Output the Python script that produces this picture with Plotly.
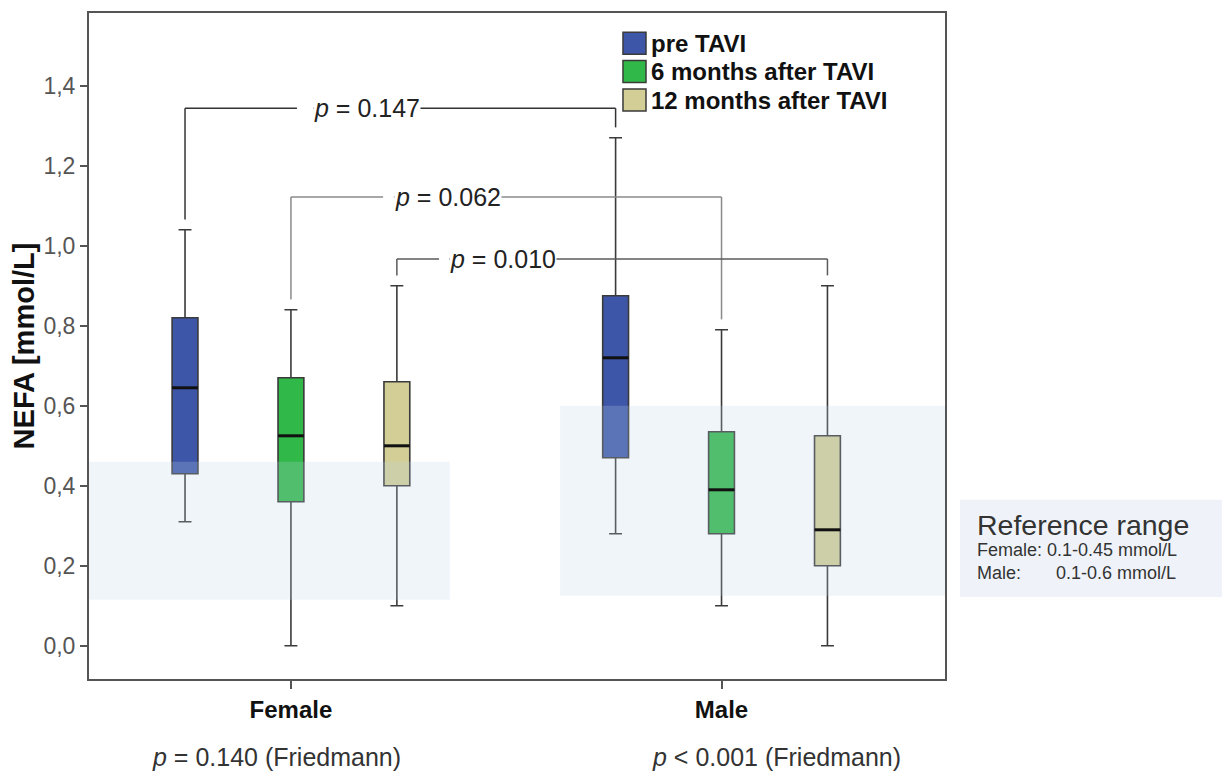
import plotly.graph_objects as go

# ---------------- data ----------------
groups = ["Female", "Male"]
series = ["pre TAVI", "6 months after TAVI", "12 months after TAVI"]
series_colors = ["#3e56a8", "#30b848", "#d2ce96"]
series_offsets = [-0.246, 0.0, 0.246]

# rows = series, columns = groups (Female, Male)
lower_fence = [[0.31, 0.28], [0.00, 0.10], [0.10, 0.00]]
q1 = [[0.43, 0.47], [0.36, 0.28], [0.40, 0.20]]
median = [[0.645, 0.72], [0.525, 0.39], [0.50, 0.29]]
q3 = [[0.82, 0.875], [0.67, 0.535], [0.66, 0.525]]
upper_fence = [[1.04, 1.27], [0.84, 0.79], [0.90, 0.90]]

# reference ranges (as drawn)
band_low = [0.115, 0.125]
band_high = [0.46, 0.60]

# pairwise comparisons Female vs Male per series
bracket_labels = ["p = 0.147", "p = 0.062", "p = 0.010"]
bracket_top = [1.344, 1.122, 0.967]
bracket_label_x = [0.052, 0.239, 0.367]
bracket_gap_x = [0.014, 0.214, 0.344]
bracket_colors = ["#333333", "#8a8a8a", "#5a5a5a"]

friedman_labels = ["<i>p</i> = 0.140 (Friedmann)", "<i>p</i> < 0.001 (Friedmann)"]

ref_title = "Reference range"
ref_lines = ["Female: 0.1-0.45 mmol/L", "Male:\u00a0\u00a0\u00a0\u00a0\u00a0\u00a0 0.1-0.6 mmol/L"]

FONT = "Liberation Sans, Arial, sans-serif"
BOX_W = 0.06
X_RANGE = [-0.469, 1.519]
Y_RANGE = [-0.083, 1.582]

fig = go.Figure()

group_pos = list(range(len(groups)))
for s, name in enumerate(series):
    xs = [g + series_offsets[s] for g in group_pos]
    fig.add_trace(go.Box(
        name=name,
        x=xs,
        q1=q1[s], median=median[s], q3=q3[s],
        lowerfence=lower_fence[s], upperfence=upper_fence[s],
        width=BOX_W, whiskerwidth=0.5,
        fillcolor=series_colors[s],
        line=dict(color="#3a3a3a", width=1.6),
        boxpoints=False,
        hoverinfo="skip",
        showlegend=False,
    ))

shapes = []
annotations = []

# reference range bands (semi-transparent, above the boxes)
band_x = [[X_RANGE[0], 0.369], [0.625, X_RANGE[1]]]
for g in group_pos:
    shapes.append(dict(type="rect", xref="x", yref="y",
                       x0=band_x[g][0], x1=band_x[g][1],
                       y0=band_low[g], y1=band_high[g],
                       fillcolor="rgba(190,210,235,0.23)", line=dict(width=0),
                       layer="above"))

# median lines
for s in range(len(series)):
    for g in group_pos:
        xc = g + series_offsets[s]
        shapes.append(dict(type="line", xref="x", yref="y",
                           x0=xc - BOX_W / 2, x1=xc + BOX_W / 2,
                           y0=median[s][g], y1=median[s][g],
                           line=dict(color="#111111", width=3), layer="above"))

# comparison brackets
drop_gap = 0.026
for s in range(len(series)):
    xl = 0 + series_offsets[s]
    xr = 1 + series_offsets[s]
    yl = upper_fence[s][0] + drop_gap
    yr = upper_fence[s][1] + drop_gap
    yt = bracket_top[s]
    ln = dict(color=bracket_colors[s], width=1.5)
    shapes.append(dict(type="line", xref="x", yref="y", x0=xl, x1=xl, y0=yl, y1=yt, line=ln, layer="above"))
    shapes.append(dict(type="line", xref="x", yref="y", x0=xl, x1=bracket_gap_x[s], y0=yt, y1=yt, line=ln, layer="above"))
    shapes.append(dict(type="line", xref="x", yref="y", x0=bracket_label_x[s], x1=xr, y0=yt, y1=yt, line=ln, layer="above"))
    shapes.append(dict(type="line", xref="x", yref="y", x0=xr, x1=xr, y0=yt, y1=yr, line=ln, layer="above"))
    lbl = bracket_labels[s].replace("p", "<i>p</i>", 1)
    annotations.append(dict(x=bracket_label_x[s], y=yt, xref="x", yref="y",
                            text=lbl, showarrow=False, xanchor="left", yanchor="middle",
                            bgcolor="white", borderpad=0,
                            font=dict(family=FONT, size=25, color="#222222")))

# legend (drawn as swatches + labels in paper coordinates)
legend_x0, legend_sw = 0.6238, 0.0269   # swatch left / width (paper)
legend_text_x = 0.6545
legend_rows_y = [0.9545, 0.912, 0.8693]
legend_sw_h = 0.033
for s, name in enumerate(series):
    yc = legend_rows_y[s]
    shapes.append(dict(type="rect", xref="paper", yref="paper",
                       x0=legend_x0, x1=legend_x0 + legend_sw,
                       y0=yc - legend_sw_h / 2, y1=yc + legend_sw_h / 2,
                       fillcolor=series_colors[s], line=dict(color="#3a3a3a", width=1.5)))
    annotations.append(dict(x=legend_text_x, y=yc, xref="paper", yref="paper",
                            text="<b>" + name + "</b>", showarrow=False,
                            xanchor="left", yanchor="middle",
                            font=dict(family=FONT, size=24, color="#111111")))

# Friedman p-values under the axis
friedman_x = [0.2185, 0.8026]
for g in group_pos:
    annotations.append(dict(x=friedman_x[g], y=-0.117, xref="paper", yref="paper",
                            text=friedman_labels[g], showarrow=False,
                            xanchor="center", yanchor="middle",
                            font=dict(family=FONT, size=25, color="#333333")))

# Reference range box (outside the plot)
shapes.append(dict(type="rect", xref="paper", yref="paper",
                   x0=1.0175, x1=1.3236, y0=0.123, y1=0.269,
                   fillcolor="#eff3f9", line=dict(width=0), layer="below"))
annotations.append(dict(x=1.035, y=0.231, xref="paper", yref="paper", text=ref_title,
                        showarrow=False, xanchor="left", yanchor="middle",
                        font=dict(family=FONT, size=28.5, color="#333333")))
annotations.append(dict(x=1.035, y=0.177, xref="paper", yref="paper",
                        text="<br>".join(ref_lines), align="left",
                        showarrow=False, xanchor="left", yanchor="middle",
                        font=dict(family=FONT, size=18, color="#333333")))

fig.update_layout(
    width=1223, height=774,
    margin=dict(l=89, r=278, t=13, b=95),
    paper_bgcolor="white", plot_bgcolor="white",
    separators=",.",
    font=dict(family=FONT),
    boxmode="overlay",
    shapes=shapes,
    annotations=annotations,
    showlegend=False,
)

fig.update_xaxes(
    range=X_RANGE,
    tickmode="array", tickvals=group_pos, ticktext=groups,
    tickfont=dict(family=FONT, size=24, color="#111111", weight="bold"),
    ticks="outside", ticklen=8, tickwidth=1.5, tickcolor="#555555",
    showline=True, linecolor="#555555", linewidth=2, mirror=True,
    showgrid=False, zeroline=False,
)
fig.update_yaxes(
    range=Y_RANGE,
    tick0=0, dtick=0.2, tickformat=".1f",
    tickfont=dict(family=FONT, size=23, color="#555555"),
    ticks="outside", ticklen=7, tickwidth=1.5, tickcolor="#555555",
    showline=True, linecolor="#555555", linewidth=2, mirror=True,
    showgrid=False, zeroline=False,
    title=dict(text="NEFA [mmol/L]", standoff=0,
               font=dict(family=FONT, size=29, color="#111111", weight="bold")),
)

fig.write_html("out.html",
               config={"displayModeBar": False},
               post_script="document.body.style.margin='0px';document.body.style.overflow='hidden';")
